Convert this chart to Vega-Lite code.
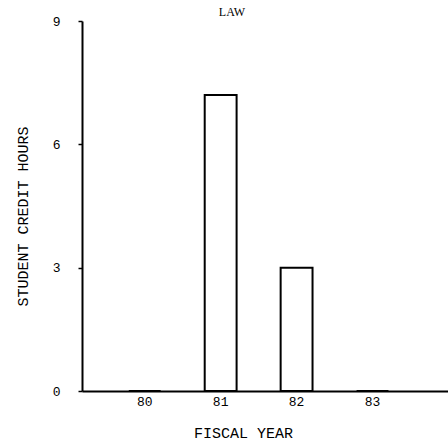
{
  "$schema": "https://vega.github.io/schema/vega-lite/v6.json",
  "autosize": "none",
  "width": 366,
  "height": 370,
  "padding": {"left": 82, "top": 21, "right": 0, "bottom": 56},
  "background": "white",
  "title": {"text": "LAW", "font": "Liberation Serif", "fontSize": 12, "fontWeight": "normal", "color": "black", "dx": -33, "offset": -4},
  "data": {"values": [
    {"year": "80", "hours": 0},
    {"year": "81", "hours": 7.2},
    {"year": "82", "hours": 3.0},
    {"year": "83", "hours": 0}
  ]},
  "mark": {"type": "bar", "fill": "white", "stroke": "black", "strokeWidth": 2},
  "encoding": {
    "x": {"field": "year", "type": "nominal", "sort": null,
      "scale": {"paddingInner": 0.58, "paddingOuter": 0.7, "align": 0.44},
      "axis": {"title": "FISCAL YEAR", "labelAngle": 0, "ticks": false, "domainColor": "black", "domainWidth": 2,
        "labelFont": "Liberation Mono", "labelFontSize": 13, "labelColor": "black", "labelPadding": 4,
        "titleFont": "Liberation Mono", "titleFontSize": 15, "titleFontWeight": "normal", "titleColor": "black", "titlePadding": 17, "titleX": 161}},
    "y": {"field": "hours", "type": "quantitative",
      "scale": {"domain": [0, 9], "nice": false},
      "axis": {"title": "STUDENT CREDIT HOURS", "values": [0, 3, 6, 9], "grid": false, "domainColor": "black", "domainWidth": 2,
        "tickColor": "black", "tickSize": 4, "tickWidth": 1.5,
        "labelFont": "Liberation Mono", "labelFontSize": 13, "labelColor": "black", "labelPadding": 18,
        "titleFont": "Liberation Mono", "titleFontSize": 15, "titleFontWeight": "normal", "titleColor": "black", "titlePadding": 22, "titleY": 195}}
  },
  "config": {"view": {"stroke": null}}
}
